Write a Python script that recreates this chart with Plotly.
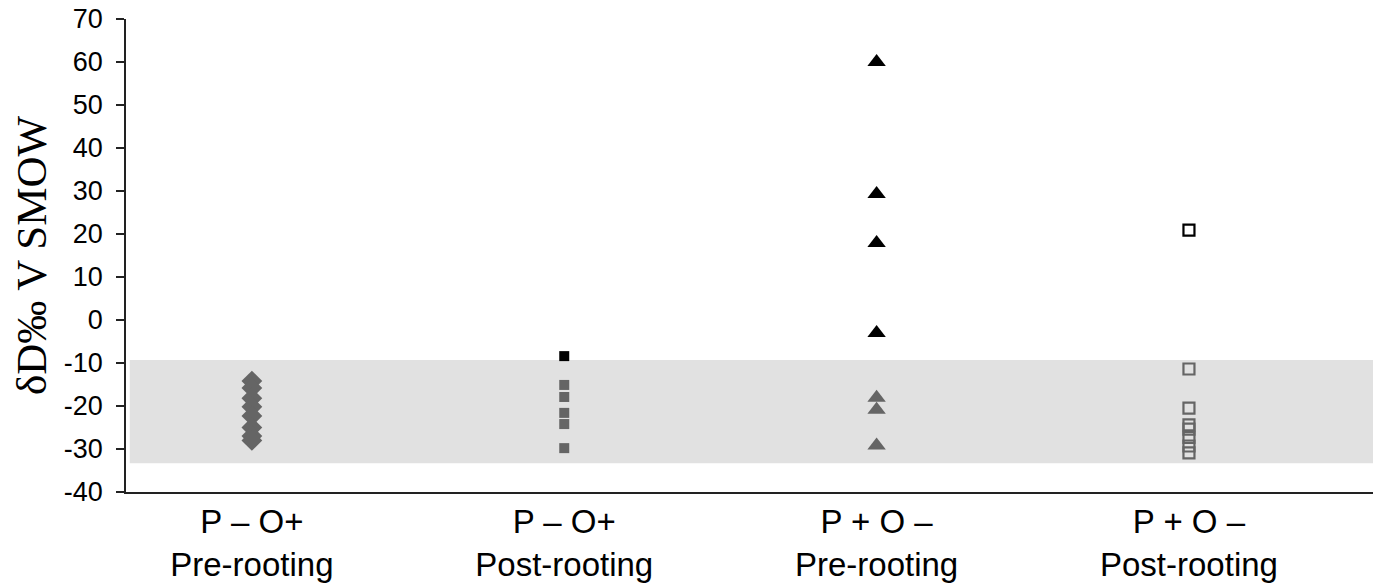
import plotly.graph_objects as go

categories = ["P – O+<br>Pre-rooting", "P – O+<br>Post-rooting",
              "P + O –<br>Pre-rooting", "P + O –<br>Post-rooting"]

g1_gray = [-14.2, -15.8, -18.2, -20.2, -22.3, -25.0, -27.0, -28.0]
g2_black = [-8.4]
g2_gray = [-15.1, -17.9, -21.6, -24.2, -29.8]
g3_black = [60.0, 29.3, 17.9, -3.0]
g3_gray = [-18.1, -20.9, -29.2]
g4_black = [20.9]
g4_gray = [-11.4, -20.5, -24.4, -25.4, -27.3, -29.3, -30.9]

band_low, band_high = -33.3, -9.3
y_ticks = list(range(-40, 71, 10))
y_ticktext = [str(v) for v in y_ticks]

GRAY = "#656565"
BLACK = "#000000"

fig = go.Figure()

def add(cat, ys, symbol, color, size, open_=False):
    if open_:
        marker = dict(symbol=symbol, size=size, color=color,
                      line=dict(color=color, width=2.2))
    else:
        marker = dict(symbol=symbol, size=size, color=color, line=dict(width=0))
    fig.add_trace(go.Scatter(x=[cat] * len(ys), y=ys, mode="markers",
                             marker=marker, showlegend=False, cliponaxis=False))

add(categories[0], g1_gray, "diamond", GRAY, 16)
add(categories[1], g2_gray, "square", GRAY, 10)
add(categories[1], g2_black, "square", BLACK, 10)
add(categories[2], g3_gray, "triangle-up", GRAY, 16)
add(categories[2], g3_black, "triangle-up", BLACK, 16)
add(categories[3], g4_gray, "square-open", GRAY, 11, open_=True)
add(categories[3], g4_black, "square-open", BLACK, 11, open_=True)

fig.add_shape(type="rect", xref="paper", yref="y", x0=0.003, x1=1.0,
              y0=band_low, y1=band_high, fillcolor="#e1e1e1",
              line=dict(width=0), layer="below")

fig.update_layout(
    width=1373, height=575,
    margin=dict(l=118, r=4, t=11, b=91),
    paper_bgcolor="white", plot_bgcolor="white",
    font=dict(family="Liberation Sans, Arial, sans-serif", color="black"),
)
fig.update_xaxes(
    type="category", categoryorder="array", categoryarray=categories,
    range=[-0.403, 3.602], showgrid=False, zeroline=False, automargin=False,
    showline=True, linecolor="#222", linewidth=1.5, ticks="",
    ticklabeloverflow="allow",
    tickfont=dict(size=33, family="Liberation Sans, Arial, sans-serif", color="black"),
)
fig.update_yaxes(
    range=[-40, 70], tickvals=y_ticks, ticktext=y_ticktext,
    showgrid=False, zeroline=False, automargin=False,
    showline=True, linecolor="#222", linewidth=1.5, ticks="outside",
    ticklen=8, tickwidth=1.5, tickcolor="#222", ticklabelstandoff=8,
    ticklabeloverflow="allow",
    tickfont=dict(size=27, family="Liberation Sans, Arial, sans-serif", color="black"),
    title=dict(text="δD‰ V SMOW", standoff=8,
               font=dict(size=43, family="Liberation Serif, Times New Roman, serif", color="black")),
)

fig.write_html("out.html")
